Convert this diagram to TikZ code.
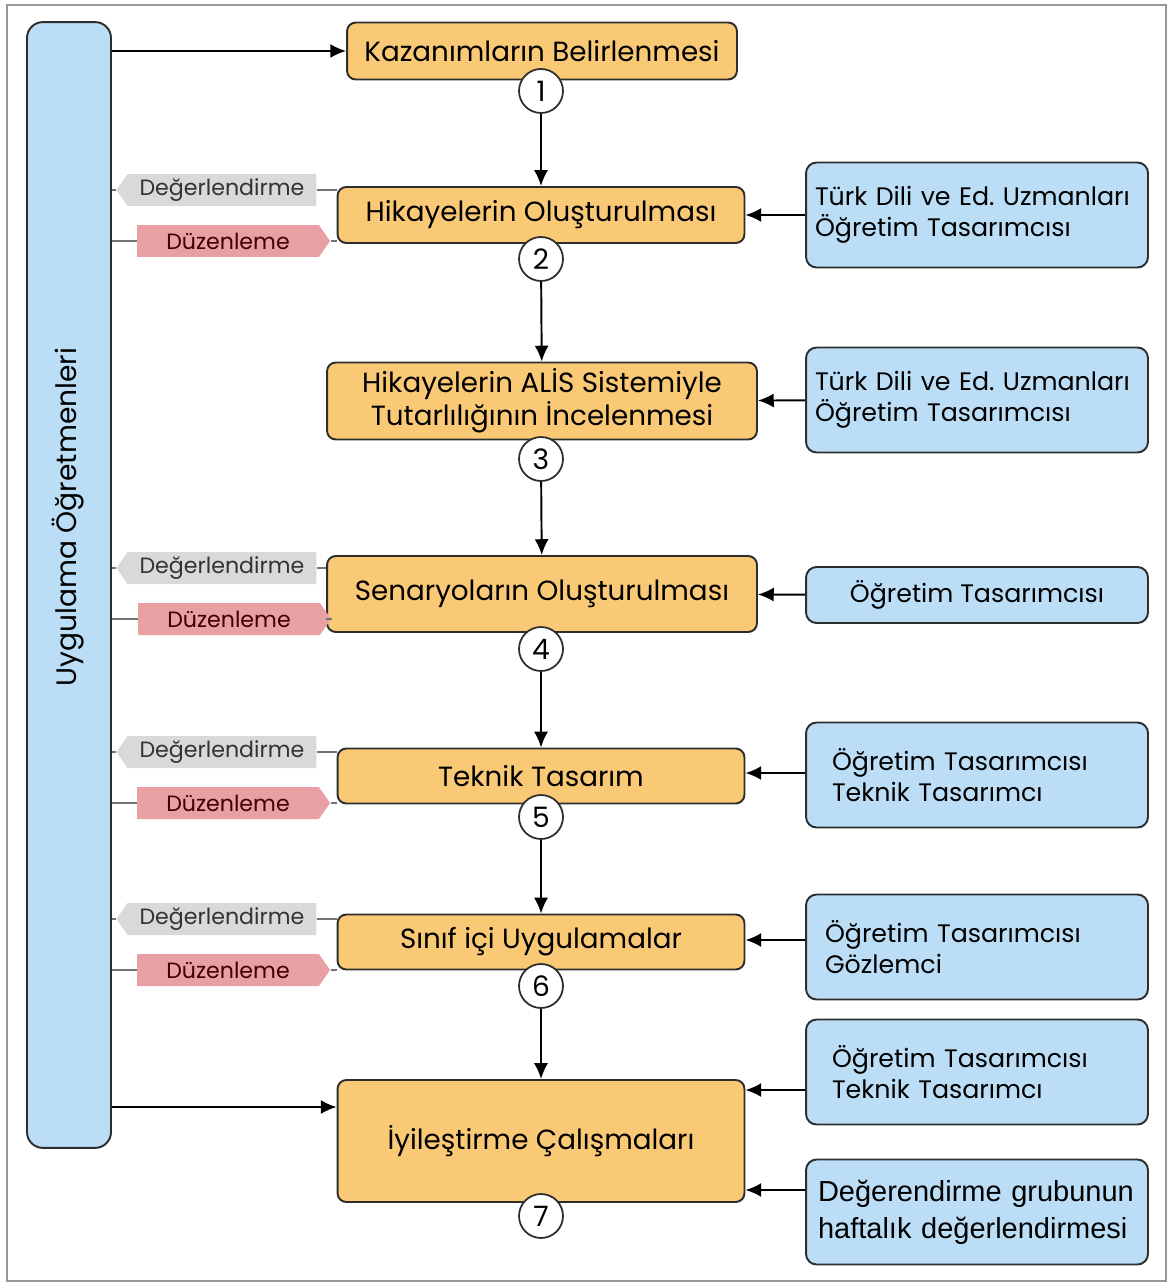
\documentclass[tikz,border=0pt]{standalone}
\usepackage{fontspec}
\setmainfont{Poppins}
\newfontfamily\arialfont{Liberation Sans}
\usetikzlibrary{shapes.symbols,arrows.meta}
\definecolor{stepfill}{RGB}{250,201,117}
\definecolor{rolefill}{RGB}{187,222,246}
\definecolor{evalfill}{RGB}{217,217,217}
\definecolor{editfill}{RGB}{233,160,164}
\definecolor{edge}{RGB}{45,45,45}
\definecolor{frame}{RGB}{150,150,150}
\frenchspacing

\begin{document}
\begin{tikzpicture}[x=0.02cm, y=-0.02cm,
    stepbox/.style={draw=edge, line width=1.1pt, fill=stepfill, rounded corners=5pt,
        align=center, font=\fontsize{15.8}{19}\selectfont, inner sep=2pt},
    rolebox/.style={draw=edge, line width=1.1pt, fill=rolefill, rounded corners=6pt,
        align=left, font=\fontsize{14.4}{17.5}\selectfont, minimum height=2.1cm,
        minimum width=6.84cm},
    numcirc/.style={circle, draw=edge, line width=1pt, fill=white, minimum size=0.88cm,
        inner sep=0pt, font=\fontsize{16}{16}\selectfont},
    evaltag/.style={signal, signal to=west, signal pointer angle=110, fill=evalfill,
        text=black!80, minimum width=4cm, minimum height=0.64cm, inner sep=1pt,
        font=\fontsize{12.6}{12}\selectfont},
    edittag/.style={signal, signal to=east, signal pointer angle=110, fill=editfill,
        text=red!25!black, minimum width=3.86cm, minimum height=0.64cm, inner sep=1pt,
        font=\fontsize{12.6}{12}\selectfont},
    arr/.style={-{Latex[length=9pt,width=8pt]}, line width=1.1pt, draw=black},
    tagline/.style={draw=black!55, line width=0.6pt}]
    \useasboundingbox (0,0) rectangle (1169,1284);

    %% Outer frame
    \draw[frame, line width=1.3pt] (7,5) rectangle (1166,1281);

    %% Teachers column (left)
    \node[draw=edge, line width=1.1pt, fill=rolefill, rounded corners=9pt,
        minimum width=1.68cm, minimum height=22.52cm] (lbox) at (69,585) {};
    \node[rotate=90, font=\fontsize{16}{16}\selectfont] (ltext) at (68,517) {Uygulama Öğretmenleri};

    %% Main steps
    \node[stepbox, minimum width=7.8cm, minimum height=1.14cm] (s1) at (542,51) {Kazanımların Belirlenmesi};
    \node[stepbox, minimum width=8.14cm, minimum height=1.12cm] (s2) at (541,215) {Hikayelerin Oluşturulması};
    \node[stepbox, minimum width=8.6cm, minimum height=1.54cm] (s3) at (542,401) {Hikayelerin ALİS Sistemiyle\\Tutarlılığının İncelenmesi};
    \node[stepbox, minimum width=8.6cm, minimum height=1.52cm] (s4) at (542,594) {Senaryoların Oluşturulması};
    \node[stepbox, minimum width=8.14cm, minimum height=1.1cm] (s5) at (541,776) {Teknik Tasarım};
    \node[stepbox, minimum width=8.14cm, minimum height=1.1cm] (s6) at (541,942) {Sınıf içi Uygulamalar};
    \node[stepbox, minimum width=8.14cm, minimum height=2.44cm] (s7) at (541,1141) {İyileştirme Çalışmaları};

    %% Step numbers
    \node[numcirc] (n1) at (541,91) {1};
    \node[numcirc] (n2) at (541,259) {2};
    \node[numcirc] (n3) at (541,459) {3};
    \node[numcirc] (n4) at (541,649) {4};
    \node[numcirc] (n5) at (541,817) {5};
    \node[numcirc] (n6) at (541,986) {6};
    \node[numcirc] (n7) at (541,1216) {7};

    %% Flow down
    \draw[arr] (n1) -- (s2);
    \draw[arr] (n2) -- (s3);
    \draw[arr] (n3) -- (s4);
    \draw[arr] (n4) -- (s5);
    \draw[arr] (n5) -- (s6);
    \draw[arr] (n6) -- (s7);

    %% Teachers into first and last step
    \coordinate (in7) at ([yshift=0.68cm]s7.west);
    \draw[arr] (s1.west -| lbox.east) -- (s1.west);
    \draw[arr] (in7 -| lbox.east) -- (in7);

    %% Contributors (right)
    \node[rolebox, inner xsep=0.18cm, text width=6.48cm] (r2) at (977,215) {Türk Dili ve Ed. Uzmanları\\Öğretim Tasarımcısı};
    \node[rolebox, inner xsep=0.18cm, text width=6.48cm] (r3) at (977,400) {Türk Dili ve Ed. Uzmanları\\Öğretim Tasarımcısı};
    \node[rolebox, minimum height=1.12cm, align=center] (r4) at (977,595) {Öğretim Tasarımcısı};
    \node[rolebox, inner xsep=0.52cm, text width=5.8cm] (r5) at (977,775) {Öğretim Tasarımcısı\\Teknik Tasarımcı};
    \node[rolebox, inner xsep=0.38cm, text width=6.08cm] (r6) at (977,947) {Öğretim Tasarımcısı\\Gözlemci};
    \node[rolebox, inner xsep=0.52cm, text width=5.8cm] (r7a) at (977,1072) {Öğretim Tasarımcısı\\Teknik Tasarımcı};
    \node[rolebox, inner xsep=0.24cm, text width=6.36cm, font=\arialfont\fontsize{16.5}{21}\selectfont] (r7b) at (977,1212) {Değerendirme grubunun\\haftalık değerlendirmesi};

    \draw[arr] (r2) -- (s2);
    \draw[arr] (r3) -- (s3);
    \draw[arr] (r4) -- (s4);
    \draw[arr] ([yshift=0.04cm]r5.west) -- ([yshift=0.04cm]r5.west -| s5.east);
    \draw[arr] ([yshift=0.14cm]r6.west) -- ([yshift=0.14cm]r6.west -| s6.east);
    \coordinate (r7ain) at ([yshift=-0.36cm]r7a.west);
    \coordinate (r7bin) at ([yshift=0.44cm]r7b.west);
    \draw[arr] (r7ain) -- (r7ain -| s7.east);
    \draw[arr] (r7bin) -- (r7bin -| s7.east);

    %% Evaluation / editing tags
    \node[evaltag] (d2) at (222,190) {Değerlendirme};
    \node[edittag] (e2) at (228,241) {Düzenleme};
    \node[evaltag] (d4) at (222,568) {Değerlendirme};
    \node[edittag] (e4) at (229,619) {Düzenleme};
    \node[evaltag] (d5) at (222,752) {Değerlendirme};
    \node[edittag] (e5) at (228,803) {Düzenleme};
    \node[evaltag] (d6) at (222,919) {Değerlendirme};
    \node[edittag] (e6) at (228,970) {Düzenleme};

    \draw[tagline] (d2.west -| lbox.east) -- (d2.west);
    \draw[tagline] (d2.east) -- (d2.east -| s2.west);
    \draw[tagline] (e2.west -| lbox.east) -- (e2.west);
    \draw[tagline] (e2.east) -- (e2.east -| s2.west);
    \draw[tagline] (d4.west -| lbox.east) -- (d4.west);
    \draw[tagline] (d4.east) -- (d4.east -| s4.west);
    \draw[tagline] (e4.west -| lbox.east) -- (e4.west);
    \draw[tagline] (e4.east) -- (e4.east -| s4.west);
    \draw[tagline] (d5.west -| lbox.east) -- (d5.west);
    \draw[tagline] (d5.east) -- (d5.east -| s5.west);
    \draw[tagline] (e5.west -| lbox.east) -- (e5.west);
    \draw[tagline] (e5.east) -- (e5.east -| s5.west);
    \draw[tagline] (d6.west -| lbox.east) -- (d6.west);
    \draw[tagline] (d6.east) -- (d6.east -| s6.west);
    \draw[tagline] (e6.west -| lbox.east) -- (e6.west);
    \draw[tagline] (e6.east) -- (e6.east -| s6.west);

\end{tikzpicture}
\end{document}
